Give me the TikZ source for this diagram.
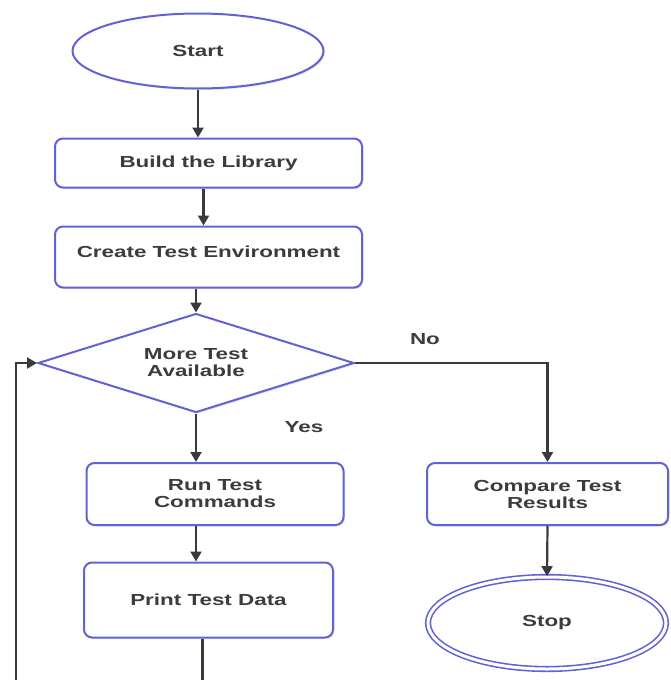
\documentclass[tikz,border=0pt]{standalone}
\usepackage{fontspec}
\newfontfamily\diafont{Liberation Sans}[FakeStretch=1.4]
\usetikzlibrary{shapes.geometric,arrows.meta,shadows}
\definecolor{edgeblue}{RGB}{98,98,214}
\definecolor{wire}{RGB}{58,58,58}
\definecolor{ink}{RGB}{60,60,60}
\tikzset{
  base/.style={draw=edgeblue, line width=2pt, fill=white, text=ink,
    font=\diafont\bfseries\fontsize{16}{17}\selectfont, align=center, inner sep=0pt,
    drop shadow={opacity=0.22, shadow xshift=1.5pt, shadow yshift=-1.5pt}},
  terminal/.style={base, ellipse},
  procbox/.style={base, rectangle, rounded corners=8pt},
  decision/.style={base, diamond},
  arr/.style={draw=wire, line width=2.2pt, -{Triangle[length=10pt,width=11pt]}},
  tag/.style={text=ink, font=\diafont\bfseries\fontsize{16}{17}\selectfont}
}
\begin{document}
\begin{tikzpicture}[x=1pt, y=-1pt]
\useasboundingbox (0,0) rectangle (670,680);

% process nodes
\node[terminal, minimum width=251pt, minimum height=75pt] (start) at (198,51) {Start};
\node[procbox, minimum width=307pt, minimum height=49pt] (build) at (208.5,163) {Build the Library};
\node[procbox, minimum width=307pt, minimum height=61pt, text height=11pt, text depth=10pt] (create) at (208.5,257) {Create Test Environment};
\node[decision, shape aspect=3.19, minimum width=316pt, minimum height=99pt] (more) at (196,363) {More Test\\Available};
\node[procbox, minimum width=257pt, minimum height=62pt] (run) at (215,494) {Run Test\\Commands};
\node[procbox, minimum width=249pt, minimum height=75pt] (print) at (208.5,600) {Print Test Data};
\node[procbox, minimum width=241pt, minimum height=62pt] (cmp) at (547.5,494) {Compare Test\\Results};
\node[terminal, double=white, double distance=3pt, line width=1.6pt,
      minimum width=238pt, minimum height=92pt] (stop) at (547,623) {Stop};

% branch labels
\node[tag] (nolbl) at (425,339) {No};
\node[tag] (yeslbl) at (304,427) {Yes};

% loop-back corner below the page edge
\coordinate (loop) at (16,720);

% connectors
\draw[arr] (start.south) -- (start.south |- build.north);
\draw[arr] ([xshift=-5pt]build.south) -- ([xshift=-5pt]build.south |- create.north);
\draw[arr] (more.north |- create.south) -- (more.north);
\draw[arr] (more.east) -| (cmp.north);
\draw[arr] (more.south) -- (more.south |- run.north);
\draw[arr] (run.south -| more.south) -- (print.north -| more.south);
\draw[arr] (cmp.south) -- (stop.north);
\draw[arr] ([xshift=-6pt]print.south) -- ([xshift=-6pt]print.south |- loop) -- (loop) |- (more.west);
\end{tikzpicture}
\end{document}
